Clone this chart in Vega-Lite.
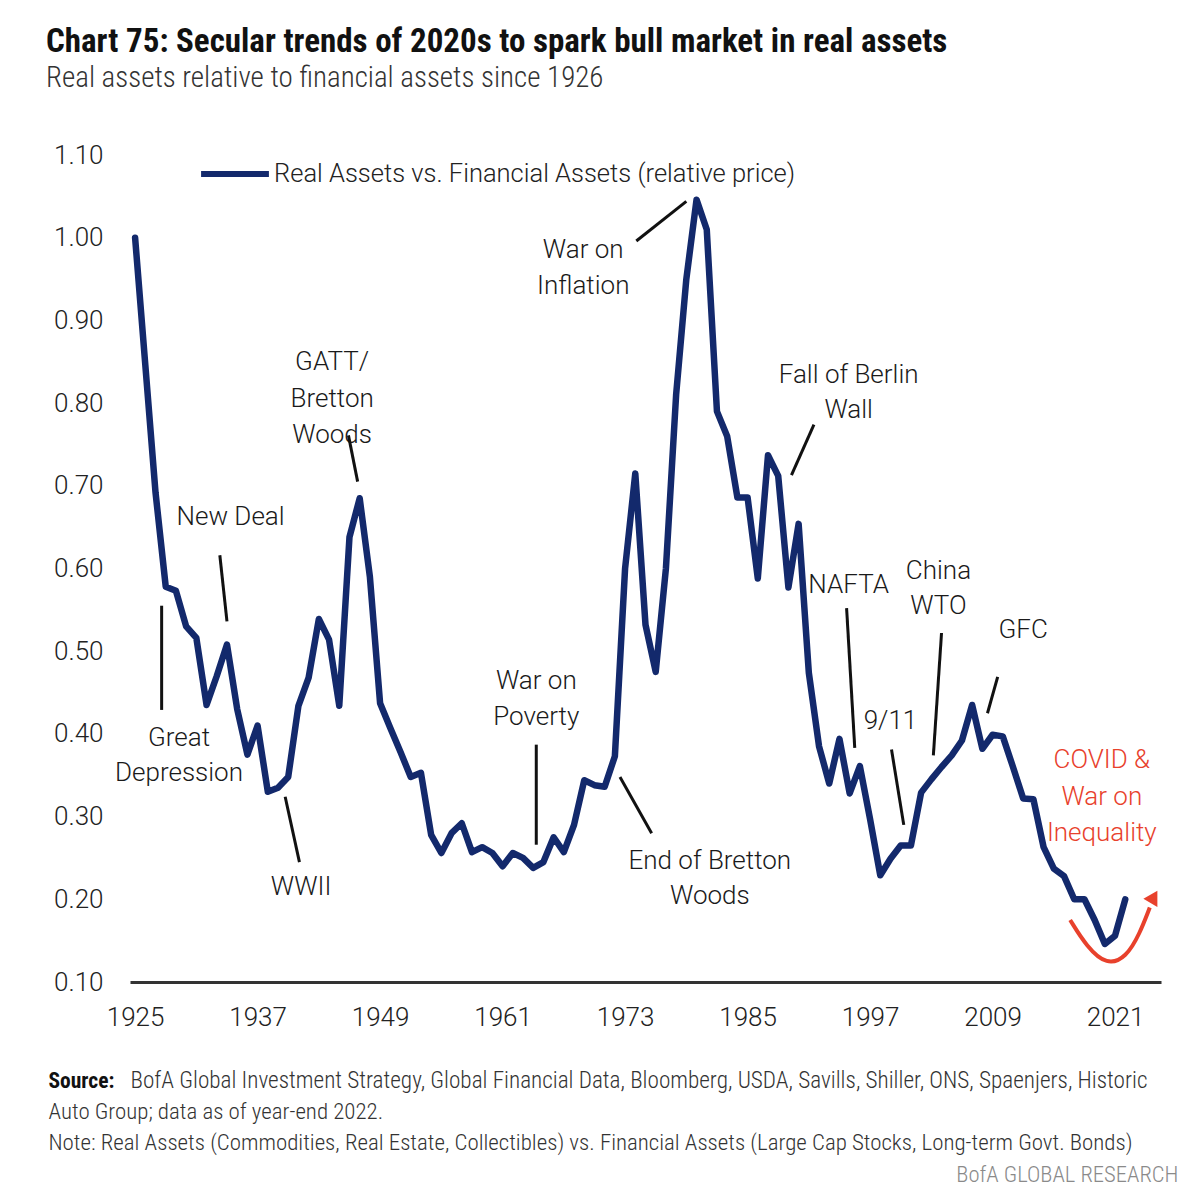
{
  "$schema": "https://vega.github.io/schema/vega-lite/v6.json",
  "width": 1031,
  "height": 827,
  "autosize": {"type": "none"},
  "padding": {"left": 130, "top": 155, "right": 29, "bottom": 218},
  "background": "white",
  "title": {
    "text": "Chart 75: Secular trends of 2020s to spark bull market in real assets",
    "subtitle": "Real assets relative to financial assets since 1926",
    "anchor": "start",
    "frame": "group",
    "dx": -84,
    "offset": 44,
    "font": "Liberation Sans Narrow, Roboto Condensed, Roboto",
    "fontSize": 33,
    "fontWeight": "bold",
    "color": "#111111",
    "subtitleFont": "Liberation Sans Narrow, Roboto Condensed, Roboto",
    "subtitleFontSize": 29,
    "subtitleFontWeight": 300,
    "subtitleColor": "#333333",
    "subtitlePadding": 5
  },
  "config": {
    "view": {"stroke": null},
    "font": "Roboto",
    "axis": {"grid": false, "ticks": false, "labelFont": "Roboto", "labelFontWeight": 300, "labelColor": "#222222", "labelFontSize": 26}
  },
  "datasets": {
    "series": [
      {"year": 1925, "value": 1.00}, {"year": 1926, "value": 0.846}, {"year": 1927, "value": 0.692},
      {"year": 1928, "value": 0.578}, {"year": 1929, "value": 0.573}, {"year": 1930, "value": 0.53},
      {"year": 1931, "value": 0.516}, {"year": 1932, "value": 0.435}, {"year": 1933, "value": 0.47},
      {"year": 1934, "value": 0.508}, {"year": 1935, "value": 0.43}, {"year": 1936, "value": 0.375},
      {"year": 1937, "value": 0.41}, {"year": 1938, "value": 0.33}, {"year": 1939, "value": 0.335},
      {"year": 1940, "value": 0.348}, {"year": 1941, "value": 0.434}, {"year": 1942, "value": 0.468},
      {"year": 1943, "value": 0.539}, {"year": 1944, "value": 0.514}, {"year": 1945, "value": 0.434},
      {"year": 1946, "value": 0.638}, {"year": 1947, "value": 0.685}, {"year": 1948, "value": 0.59},
      {"year": 1949, "value": 0.437}, {"year": 1950, "value": 0.407}, {"year": 1951, "value": 0.378},
      {"year": 1952, "value": 0.348}, {"year": 1953, "value": 0.353}, {"year": 1954, "value": 0.278},
      {"year": 1955, "value": 0.256}, {"year": 1956, "value": 0.28}, {"year": 1957, "value": 0.292},
      {"year": 1958, "value": 0.257}, {"year": 1959, "value": 0.263}, {"year": 1960, "value": 0.256},
      {"year": 1961, "value": 0.24}, {"year": 1962, "value": 0.256}, {"year": 1963, "value": 0.25},
      {"year": 1964, "value": 0.238}, {"year": 1965, "value": 0.245}, {"year": 1966, "value": 0.275},
      {"year": 1967, "value": 0.257}, {"year": 1968, "value": 0.29}, {"year": 1969, "value": 0.344},
      {"year": 1970, "value": 0.338}, {"year": 1971, "value": 0.336}, {"year": 1972, "value": 0.373},
      {"year": 1973, "value": 0.6}, {"year": 1974, "value": 0.715}, {"year": 1975, "value": 0.532},
      {"year": 1976, "value": 0.475}, {"year": 1977, "value": 0.6}, {"year": 1978, "value": 0.81},
      {"year": 1979, "value": 0.95}, {"year": 1980, "value": 1.046}, {"year": 1981, "value": 1.01},
      {"year": 1982, "value": 0.79}, {"year": 1983, "value": 0.76}, {"year": 1984, "value": 0.686},
      {"year": 1985, "value": 0.686}, {"year": 1986, "value": 0.588}, {"year": 1987, "value": 0.737},
      {"year": 1988, "value": 0.712}, {"year": 1989, "value": 0.577}, {"year": 1990, "value": 0.654},
      {"year": 1991, "value": 0.474}, {"year": 1992, "value": 0.385}, {"year": 1993, "value": 0.34},
      {"year": 1994, "value": 0.394}, {"year": 1995, "value": 0.328}, {"year": 1996, "value": 0.361},
      {"year": 1997, "value": 0.297}, {"year": 1998, "value": 0.229}, {"year": 1999, "value": 0.249},
      {"year": 2000, "value": 0.265}, {"year": 2001, "value": 0.265}, {"year": 2002, "value": 0.329},
      {"year": 2003, "value": 0.345}, {"year": 2004, "value": 0.36}, {"year": 2005, "value": 0.374},
      {"year": 2006, "value": 0.392}, {"year": 2007, "value": 0.435}, {"year": 2008, "value": 0.382},
      {"year": 2009, "value": 0.399}, {"year": 2010, "value": 0.397}, {"year": 2011, "value": 0.36},
      {"year": 2012, "value": 0.322}, {"year": 2013, "value": 0.321}, {"year": 2014, "value": 0.263},
      {"year": 2015, "value": 0.237}, {"year": 2016, "value": 0.228}, {"year": 2017, "value": 0.2},
      {"year": 2018, "value": 0.2}, {"year": 2019, "value": 0.175}, {"year": 2020, "value": 0.146},
      {"year": 2021, "value": 0.156}, {"year": 2022, "value": 0.2}
    ],
    "labels": [
      {"year": 1929.3, "value": 0.395, "text": "Great"},
      {"year": 1929.3, "value": 0.353, "text": "Depression"},
      {"year": 1934.35, "value": 0.662, "text": "New Deal"},
      {"year": 1941.26, "value": 0.215, "text": "WWII"},
      {"year": 1944.3, "value": 0.85, "text": "GATT/"},
      {"year": 1944.3, "value": 0.805, "text": "Bretton"},
      {"year": 1944.3, "value": 0.761, "text": "Woods"},
      {"year": 1964.3, "value": 0.464, "text": "War on"},
      {"year": 1964.3, "value": 0.42, "text": "Poverty"},
      {"year": 1981.3, "value": 0.246, "text": "End of Bretton"},
      {"year": 1981.3, "value": 0.204, "text": "Woods"},
      {"year": 1968.9, "value": 0.985, "text": "War on"},
      {"year": 1968.9, "value": 0.942, "text": "Inflation"},
      {"year": 1994.9, "value": 0.834, "text": "Fall of Berlin"},
      {"year": 1994.9, "value": 0.792, "text": "Wall"},
      {"year": 1994.9, "value": 0.58, "text": "NAFTA"},
      {"year": 1999.0, "value": 0.416, "text": "9/11"},
      {"year": 2003.7, "value": 0.597, "text": "China"},
      {"year": 2003.7, "value": 0.555, "text": "WTO"},
      {"year": 2012.0, "value": 0.526, "text": "GFC"}
    ],
    "redlabels": [
      {"year": 2019.7, "value": 0.368, "text": "COVID &"},
      {"year": 2019.7, "value": 0.324, "text": "War on"},
      {"year": 2019.7, "value": 0.28, "text": "Inequality"}
    ],
    "leaders": [
      {"x1": 1927.6, "y1": 0.555, "x2": 1927.6, "y2": 0.429},
      {"x1": 1933.3, "y1": 0.616, "x2": 1934.0, "y2": 0.536},
      {"x1": 1939.7, "y1": 0.324, "x2": 1941.1, "y2": 0.245},
      {"x1": 1945.9, "y1": 0.761, "x2": 1946.8, "y2": 0.705},
      {"x1": 1964.3, "y1": 0.387, "x2": 1964.3, "y2": 0.266},
      {"x1": 1972.5, "y1": 0.348, "x2": 1975.6, "y2": 0.28},
      {"x1": 1974.1, "y1": 0.996, "x2": 1979.0, "y2": 1.044},
      {"x1": 1989.3, "y1": 0.713, "x2": 1991.5, "y2": 0.774},
      {"x1": 1994.7, "y1": 0.552, "x2": 1995.5, "y2": 0.383},
      {"x1": 1999.1, "y1": 0.381, "x2": 2000.3, "y2": 0.29},
      {"x1": 2004.0, "y1": 0.522, "x2": 2003.2, "y2": 0.374},
      {"x1": 2009.5, "y1": 0.469, "x2": 2008.5, "y2": 0.425}
    ],
    "arrow": [
      {"order": 1, "year": 2016.6, "value": 0.175},
      {"order": 2, "year": 2018.2, "value": 0.143},
      {"order": 3, "year": 2020.2, "value": 0.12},
      {"order": 4, "year": 2022.1, "value": 0.13},
      {"order": 5, "year": 2023.4, "value": 0.158},
      {"order": 6, "year": 2024.4, "value": 0.19}
    ],
    "arrowhead": [
      {"year": 2024.8, "value": 0.203}
    ]
  },
  "resolve": {"axis": {"x": "independent", "y": "independent"}},
  "layer": [
    {
      "data": {"name": "series"},
      "mark": {"type": "line", "strokeWidth": 6.5, "strokeJoin": "round", "strokeCap": "round"},
      "encoding": {
        "x": {
          "field": "year", "type": "quantitative",
          "scale": {"domain": [1924.5, 2025.5], "nice": false, "zero": false},
          "axis": {
            "values": [1925, 1937, 1949, 1961, 1973, 1985, 1997, 2009, 2021],
            "format": "d",
            "labelPadding": 22,
            "domain": true, "domainColor": "#333333", "domainWidth": 3,
            "title": "BofA Global Investment Strategy, Global Financial Data, Bloomberg, USDA, Savills, Shiller, ONS,  Spaenjers, Historic",
            "titleX": 0, "titleY": 105, "titleAlign": "left", "titleBaseline": "alphabetic", "titleAnchor": null,
            "titleFont": "Liberation Sans Narrow, Roboto Condensed, Roboto", "titleFontSize": 23.2, "titleFontWeight": 300, "titleColor": "#333333"
          }
        },
        "y": {
          "field": "value", "type": "quantitative",
          "scale": {"domain": [0.1, 1.1], "nice": false, "zero": false},
          "axis": {
            "values": [0.1, 0.2, 0.3, 0.4, 0.5, 0.6, 0.7, 0.8, 0.9, 1.0, 1.1],
            "format": ".2f",
            "labelPadding": 27,
            "domain": false,
            "title": "Source:",
            "titleAngle": 0, "titleX": -82, "titleY": 932, "titleAlign": "left", "titleBaseline": "alphabetic",
            "titleFont": "Liberation Sans Narrow, Roboto Condensed, Roboto", "titleFontSize": 21.5, "titleFontWeight": "bold", "titleColor": "#111111"
          }
        },
        "color": {
          "datum": "Real Assets vs. Financial Assets (relative price)",
          "type": "nominal",
          "scale": {"range": ["#13296C"]},
          "legend": {
            "orient": "none", "legendX": 68, "legendY": -18, "title": null, "padding": 0,
            "symbolType": "stroke", "symbolSize": 4600, "symbolStrokeWidth": 6,
            "labelFont": "Roboto", "labelFontSize": 25.5, "labelFontWeight": 300, "labelColor": "#222222", "labelOffset": 2, "labelLimit": 800
          }
        }
      }
    },
    {
      "data": {"name": "labels"},
      "mark": {"type": "text", "font": "Roboto", "fontSize": 26, "fontWeight": 300, "baseline": "middle", "align": "center", "color": "#1a1a1a"},
      "encoding": {
        "x": {
          "field": "year", "type": "quantitative",
          "axis": {
            "orient": "top", "labels": false, "domain": false, "ticks": false,
            "title": ["Auto Group; data as of year-end 2022.", "Note: Real Assets (Commodities,  Real Estate, Collectibles) vs. Financial Assets (Large Cap Stocks, Long-term Govt. Bonds)"],
            "titleX": -82, "titleY": 963, "titleAlign": "left", "titleBaseline": "alphabetic", "titleLineHeight": 31,
            "titleFont": "Liberation Sans Narrow, Roboto Condensed, Roboto", "titleFontSize": 22.9, "titleFontWeight": 300, "titleColor": "#333333"
          }
        },
        "y": {
          "field": "value", "type": "quantitative",
          "axis": {
            "orient": "right", "labels": false, "domain": false, "ticks": false,
            "title": "BofA GLOBAL RESEARCH",
            "titleAngle": 0, "titleX": 17, "titleY": 1026, "titleAlign": "right", "titleBaseline": "alphabetic",
            "titleFont": "Liberation Sans Narrow, Roboto Condensed, Roboto", "titleFontSize": 22.6, "titleFontWeight": 300, "titleColor": "#8a8a8a"
          }
        },
        "text": {"field": "text"}
      }
    },
    {
      "data": {"name": "redlabels"},
      "mark": {"type": "text", "font": "Roboto", "fontSize": 26, "fontWeight": 300, "baseline": "middle", "align": "center", "color": "#E8412C"},
      "encoding": {
        "x": {"field": "year", "type": "quantitative", "axis": null},
        "y": {"field": "value", "type": "quantitative", "axis": null},
        "text": {"field": "text"}
      }
    },
    {
      "data": {"name": "leaders"},
      "mark": {"type": "rule", "color": "#111111", "strokeWidth": 3},
      "encoding": {
        "x": {"field": "x1", "type": "quantitative", "axis": null},
        "y": {"field": "y1", "type": "quantitative", "axis": null},
        "x2": {"field": "x2"},
        "y2": {"field": "y2"}
      }
    },
    {
      "data": {"name": "arrow"},
      "mark": {"type": "line", "color": "#E8412C", "strokeWidth": 4, "interpolate": "basis", "clip": false},
      "encoding": {
        "x": {"field": "year", "type": "quantitative", "axis": null},
        "y": {"field": "value", "type": "quantitative", "axis": null},
        "order": {"field": "order"}
      }
    },
    {
      "data": {"name": "arrowhead"},
      "mark": {"type": "point", "shape": "triangle-up", "filled": true, "color": "#E8412C", "size": 260, "angle": 30, "opacity": 1},
      "encoding": {
        "x": {"field": "year", "type": "quantitative", "axis": null},
        "y": {"field": "value", "type": "quantitative", "axis": null}
      }
    }
  ]
}
